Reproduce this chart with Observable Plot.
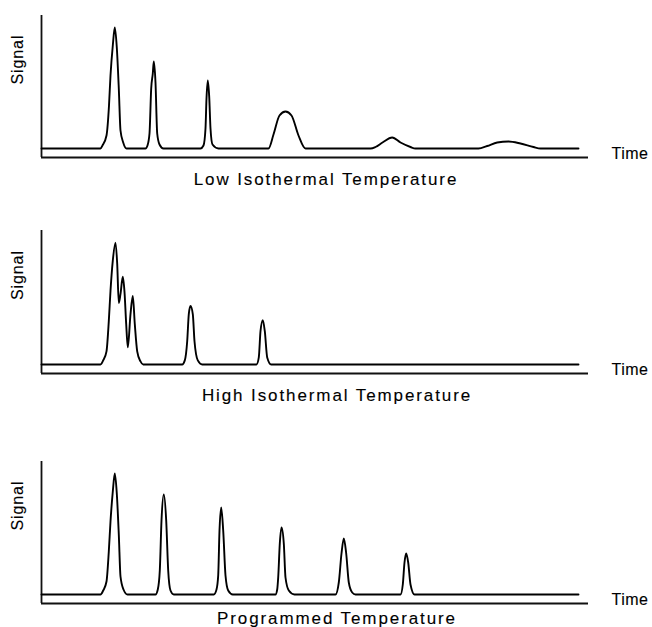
<!DOCTYPE html>
<html><head><meta charset="utf-8">
<script src="https://cdn.jsdelivr.net/npm/d3@7"></script>
<script src="https://cdn.jsdelivr.net/npm/@observablehq/plot@0.6"></script>
<style>
body{margin:0;background:#fff;}
#chart svg{display:block;}
</style>
</head><body><div id="chart"></div>
<script>
// Axis labels and panel captions
const yLabel = "Signal";
const xLabel = "Time";
const captions = ["Low Isothermal Temperature", "High Isothermal Temperature", "Programmed Temperature"];

// Scale domains (time in arbitrary minutes, signal in arbitrary units)
const timeDomain = [0, 54.7];
const signalDomain = [-9, 133];

// Panel 1: low isothermal temperature
const lowTime = [0, 5.9,6.1,6.5,6.75,6.9,7.13,7.33,7.53,7.73,7.9,8.17,8.5,
  10.4,10.6,10.8,10.97,11.13,11.23,11.4,11.57,11.8,12.2,
  15.9,16.2,16.4,16.5,16.63,16.77,16.9,17.1,17.7,
  22.7,23.2,23.8,24.4,25.0,25.7,26.4,
  32.9,33.4,34.1,35.07,35.9,36.9,37.4,
  43.7,44.57,45.57,46.7,47.9,49.2,49.9, 53.7];
const lowSignal = [0, 0,3,13,43,73,103,121,101,60,18,6,0,
  0,3,15,60,75,87,66,15,4,0,
  0,3,20,50,68,52,20,4,0,
  0,14,33,37,33,13,0,
  0,1.5,6,11,6,1.5,0,
  0,2.5,6,7,5,1.5,0, 0];

// Panel 2: high isothermal temperature
const highTime = [0, 5.9,6.17,6.5,6.73,6.9,7.13,7.4,7.57,7.73,7.9,8.13,8.3,8.47,8.63,8.9,9.13,9.33,9.57,9.9,10.17,
  14.07,14.33,14.57,14.73,14.9,15.13,15.3,15.63,16.07,
  21.5,21.73,21.9,22.13,22.33,22.57,22.97, 53.7];
const highSignal = [0, 0,4,13,43,73,103,121,100,61,70,87,72,40,17,50,68,40,13,3,0,
  0,4,23,50,58,50,23,4,0,
  0,7,33,44,33,7,0, 0];

// Panel 3: programmed temperature
const progTime = [0, 5.9,6.17,6.5,6.73,6.9,7.13,7.33,7.53,7.73,7.9,8.2,8.6,
  11.4,11.63,11.83,12.0,12.23,12.47,12.67,12.9,13.23,
  17.23,17.5,17.67,17.8,17.97,18.17,18.4,18.67,19.13,
  23.4,23.57,23.67,23.83,24.0,24.23,24.4,24.73,25.3,
  29.4,29.73,30.0,30.23,30.47,30.73,31.07,31.4,
  35.9,36.13,36.3,36.47,36.67,36.9,37.3, 53.7];
const progSignal = [0, 0,4,13,43,73,103,121,101,60,18,5,0,
  0,5,24,74,100,74,24,4,0,
  0,5,19,64,87,64,19,4,0,
  0,5,17,51,67,51,17,4,0,
  0,12,41,56,41,12,2,0,
  0,10,32,41,32,10,0, 0];

const font = "'Liberation Sans', Arial, Helvetica, sans-serif";

function panel(time, signal, caption, layout) {
  const rows = time.map((t, i) => ({time: t, signal: signal[i]}));
  const svg = Plot.plot({
    width: 652,
    height: layout.height,
    marginLeft: 41,
    marginRight: 64,
    marginTop: layout.top,
    marginBottom: layout.bottom,
    x: {domain: timeDomain, axis: null},
    y: {domain: signalDomain, axis: null},
    style: {fontFamily: font, fontSize: "16px", color: "#000", background: "#fff", overflow: "visible"},
    marks: [
      Plot.ruleX([timeDomain[0]], {stroke: "#111", strokeWidth: 1.8}),
      Plot.ruleY([signalDomain[0]], {stroke: "#111", strokeWidth: 1.8}),
      Plot.line(rows, {x: "time", y: "signal", curve: "monotone-x", stroke: "#000", strokeWidth: 1.9}),
      Plot.text([yLabel], {text: d => d, frameAnchor: "left", rotate: -90, dx: -19, dy: -2, lineAnchor: "bottom", fill: "#000", stroke: "#000", strokeWidth: 0.12, fontSize: 16}),
      Plot.text([xLabel], {text: d => d, frameAnchor: "bottom-right", textAnchor: "start", dx: 23, dy: 1, lineAnchor: "bottom", fill: "#000", stroke: "#000", strokeWidth: 0.12, fontSize: 16}),
      Plot.text([caption], {text: d => d, frameAnchor: "bottom", dx: layout.captionDx, dy: layout.captionDy, lineAnchor: "bottom", fill: "#000", stroke: "#000", strokeWidth: 0.12, fontSize: 17})
    ]
  });
  const s = d3.select(svg);
  s.selectAll("text").filter(function() { return this.textContent === caption; }).style("letter-spacing", "1.9px");
  s.selectAll("text").filter(function() { return this.textContent === yLabel; }).style("letter-spacing", "0.9px");
  s.selectAll("text").filter(function() { return this.textContent === xLabel; }).style("letter-spacing", "0.5px");
  return svg;
}

const chart = document.getElementById("chart");
chart.append(panel(lowTime, lowSignal, captions[0], {height: 200, top: 15, bottom: 43, captionDx: 11, captionDy: 27}));
chart.append(panel(highTime, highSignal, captions[1], {height: 215, top: 30, bottom: 42, captionDx: 22, captionDy: 27}));
chart.append(panel(progTime, progSignal, captions[2], {height: 212, top: 46, bottom: 24, captionDx: 22, captionDy: 20}));
</script>
</body></html>
